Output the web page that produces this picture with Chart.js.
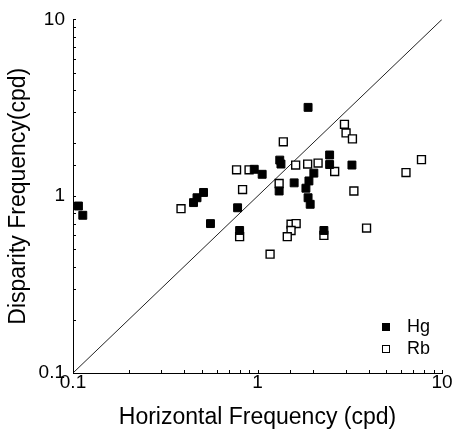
<!DOCTYPE html>
<html>
<head>
<meta charset="utf-8">
<script src="https://cdn.jsdelivr.net/npm/chart.js@4/dist/chart.umd.min.js"></script>
<style>
    html, body { margin: 0; padding: 0; background: #fff; }
    #wrap { width: 458px; height: 431px; }
</style>
</head>
<body>
<div id="wrap"><canvas id="freqChart" width="458" height="431"></canvas></div>
<script>
// Horizontal vs disparity frequency (cpd), log-log
const hgX = [0.107, 0.113, 0.45, 0.47, 0.51, 0.556, 0.78, 0.80, 0.96, 1.06, 1.32, 1.34,
             1.58, 1.31, 2.02, 1.90, 1.83, 1.88, 1.93, 1.88, 2.46, 2.46, 2.29, 3.25];
const hgY = [0.88, 0.78, 0.92, 0.98, 1.05, 0.70, 0.86, 0.64, 1.42, 1.33, 1.60, 1.52,
             1.19, 1.07, 1.35, 1.22, 1.11, 0.98, 0.90, 3.18, 1.71, 1.51, 0.64, 1.50];

const rbX = [0.385, 0.80, 0.83, 0.77, 0.90, 1.31, 1.38, 1.61, 1.87, 2.13, 2.62, 2.96,
             3.02, 3.27, 3.33, 3.90, 6.38, 7.74, 1.52, 1.62, 1.52, 1.45, 2.29, 1.17];
const rbY = [0.85, 0.59, 1.09, 1.41, 1.41, 1.18, 2.03, 1.50, 1.52, 1.54, 1.38, 2.55,
             2.28, 2.11, 1.07, 0.66, 1.36, 1.61, 0.695, 0.70, 0.64, 0.59, 0.60, 0.47];

// unity line y = x
const unityLine = [0.1, 10];

const tickLabels = ['0.1', '1', '10'];
const axisMin = 0.1;
const axisMax = 10;

const fontFamily = '"Liberation Sans", Arial, Helvetica, sans-serif';

function toPoints(xs, ys) {
    return xs.map((x, i) => ({ x: x, y: ys[i] }));
}

function majorLabel(value) {
    const lg = Math.log10(value);
    if (Math.abs(lg - Math.round(lg)) > 1e-6) return '';
    const idx = Math.round(lg) - Math.round(Math.log10(axisMin));
    return tickLabels[idx] || '';
}

// short tick marks pointing into the plot area
const innerTicks = {
    id: 'innerTicks',
    afterDatasetsDraw(chart) {
        const ctx = chart.ctx;
        const area = chart.chartArea;
        ctx.save();
        ctx.strokeStyle = '#000';
        ctx.lineWidth = 1;
        const xs = chart.scales.x;
        xs.ticks.forEach(t => {
            const px = Math.round(xs.getPixelForValue(t.value)) + 0.5;
            ctx.beginPath();
            ctx.moveTo(px, area.bottom);
            ctx.lineTo(px, area.bottom - 3);
            ctx.stroke();
        });
        const ys = chart.scales.y;
        ys.ticks.forEach(t => {
            const py = Math.round(ys.getPixelForValue(t.value)) + 0.5;
            ctx.beginPath();
            ctx.moveTo(area.left, py);
            ctx.lineTo(area.left + 3, py);
            ctx.stroke();
        });
        ctx.restore();
    }
};

// legend in the lower right corner of the plot
const cornerLegend = {
    id: 'cornerLegend',
    afterDraw(chart) {
        const ctx = chart.ctx;
        const area = chart.chartArea;
        const items = chart.data.datasets.filter(d => d.label);
        ctx.save();
        ctx.font = '18px ' + fontFamily;
        ctx.textBaseline = 'middle';
        items.forEach((d, i) => {
            const cx = area.right - 56;
            const cy = area.bottom - 46 + i * 22;
            ctx.fillStyle = d.backgroundColor;
            ctx.fillRect(cx - 4, cy - 4, 8, 8);
            ctx.strokeStyle = '#000';
            ctx.lineWidth = 1;
            ctx.strokeRect(cx - 4 + 0.5, cy - 4 + 0.5, 7, 7);
            ctx.fillStyle = '#000';
            ctx.fillText(d.label, cx + 21, cy);
        });
        ctx.restore();
    }
};

const ctx = document.getElementById('freqChart').getContext('2d');
new Chart(ctx, {
    type: 'scatter',
    data: {
        datasets: [{
            label: 'Hg',
            data: toPoints(hgX, hgY),
            pointStyle: 'rect',
            radius: 5.6,
            backgroundColor: '#000',
            borderColor: '#000',
            borderWidth: 1
        }, {
            label: 'Rb',
            data: toPoints(rbX, rbY),
            pointStyle: 'rect',
            radius: 5.6,
            backgroundColor: '#fff',
            borderColor: '#000',
            borderWidth: 1.4
        }, {
            label: '',
            type: 'line',
            data: toPoints(unityLine, unityLine),
            borderColor: '#222',
            borderWidth: 1,
            pointRadius: 0,
            fill: false
        }]
    },
    options: {
        responsive: false,
        animation: false,
        devicePixelRatio: 1,
        layout: {
            padding: { left: 0, top: 19, right: 16, bottom: 0 }
        },
        plugins: {
            legend: { display: false },
            tooltip: { enabled: false }
        },
        scales: {
            x: {
                type: 'logarithmic',
                min: axisMin,
                max: axisMax,
                grid: { display: true, drawOnChartArea: false, drawTicks: false },
                border: { display: true, color: '#000', width: 1 },
                ticks: {
                    autoSkip: false,
                    maxRotation: 0,
                    padding: -2,
                    color: '#000',
                    font: { family: fontFamily, size: 19 },
                    callback: (value) => majorLabel(value)
                },
                title: {
                    display: true,
                    text: 'Horizontal Frequency (cpd)',
                    color: '#000',
                    font: { family: fontFamily, size: 23 },
                    padding: { top: 0, bottom: 0 }
                },
                afterFit: (scale) => { scale.height = 58; }
            },
            y: {
                type: 'logarithmic',
                min: axisMin,
                max: axisMax,
                grid: { display: true, drawOnChartArea: false, drawTicks: false },
                border: { display: true, color: '#000', width: 1 },
                ticks: {
                    autoSkip: false,
                    padding: 8,
                    color: '#000',
                    font: { family: fontFamily, size: 19 },
                    callback: (value) => majorLabel(value)
                },
                title: {
                    display: true,
                    text: 'Disparity Frequency(cpd)',
                    color: '#000',
                    font: { family: fontFamily, size: 23 },
                    padding: { top: 5, bottom: 0 }
                },
                afterFit: (scale) => { scale.width = 73; }
            }
        }
    },
    plugins: [innerTicks, cornerLegend]
});
</script>
</body>
</html>
